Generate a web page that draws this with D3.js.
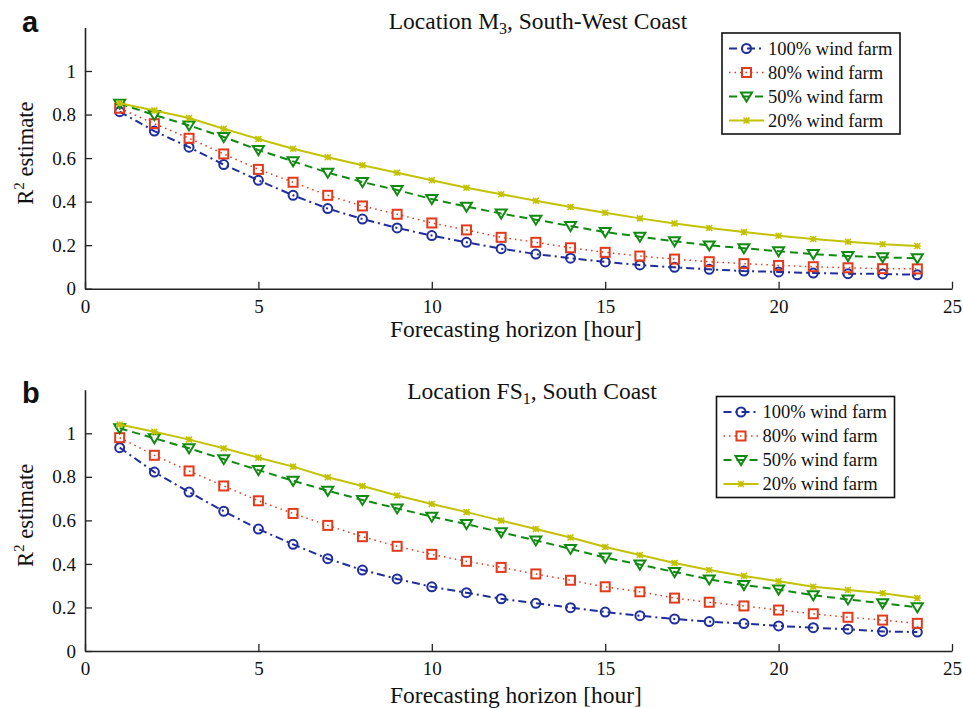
<!DOCTYPE html>
<html>
<head>
<meta charset="utf-8">
<script src="https://cdn.jsdelivr.net/npm/d3@7"></script>
<style>
  body { margin: 0; background: #fff; }
  svg text { font-family: 'Liberation Serif', 'Times New Roman', serif; fill: #111; }
  svg text.letter { font-family: 'Liberation Sans', Arial, sans-serif; font-weight: bold; }
</style>
</head>
<body>
<svg width="963" height="708"></svg>
<script>
// hours on the x axis
var hours = [1,2,3,4,5,6,7,8,9,10,11,12,13,14,15,16,17,18,19,20,21,22,23,24];
var xTicks = [0,5,10,15,20,25];
var yTicks = [0,0.2,0.4,0.6,0.8,1];
var seriesNames = ["100% wind farm","80% wind farm","50% wind farm","20% wind farm"];

// panel a: location M3
var m3_100 = [0.813,0.724,0.650,0.570,0.498,0.429,0.368,0.320,0.279,0.244,0.213,0.184,0.159,0.140,0.123,0.109,0.098,0.089,0.081,0.077,0.072,0.069,0.068,0.064];
var m3_80  = [0.829,0.758,0.691,0.619,0.548,0.489,0.429,0.380,0.342,0.302,0.270,0.236,0.213,0.188,0.167,0.150,0.136,0.124,0.115,0.107,0.101,0.096,0.092,0.091];
var m3_50  = [0.850,0.798,0.750,0.697,0.637,0.585,0.533,0.490,0.453,0.412,0.377,0.345,0.317,0.288,0.260,0.239,0.218,0.199,0.186,0.172,0.159,0.150,0.144,0.140];
var m3_20  = [0.852,0.819,0.784,0.735,0.688,0.643,0.604,0.567,0.533,0.498,0.464,0.434,0.404,0.375,0.349,0.323,0.300,0.279,0.260,0.243,0.228,0.216,0.204,0.196];

// panel b: location FS1
var fs1_100 = [0.934,0.822,0.730,0.642,0.560,0.490,0.424,0.372,0.331,0.295,0.268,0.240,0.219,0.199,0.179,0.162,0.147,0.135,0.126,0.115,0.107,0.100,0.090,0.087];
var fs1_80  = [0.980,0.899,0.827,0.758,0.690,0.632,0.577,0.525,0.481,0.444,0.412,0.384,0.354,0.325,0.295,0.272,0.243,0.224,0.207,0.188,0.171,0.155,0.142,0.127];
var fs1_50  = [1.023,0.977,0.931,0.881,0.831,0.782,0.736,0.694,0.655,0.617,0.583,0.545,0.508,0.469,0.429,0.397,0.363,0.329,0.303,0.282,0.256,0.237,0.219,0.201];
var fs1_20  = [1.040,1.007,0.971,0.931,0.888,0.847,0.798,0.758,0.714,0.675,0.638,0.599,0.560,0.521,0.478,0.441,0.404,0.372,0.345,0.320,0.295,0.280,0.265,0.243];

var styles = [
  {color: "#1f2e9c", dash: "8,4,2,4", width: 2, marker: "circle"},
  {color: "#e23a1c", dash: "1.5,4", width: 1.5, marker: "square"},
  {color: "#118a11", dash: "8,5", width: 2, marker: "triangle"},
  {color: "#c2c200", dash: null, width: 2, marker: "star"}
];

var svg = d3.select("svg");

var x = d3.scaleLinear().domain([0,25]).range([85,952]);

function marker(g, type, cx, cy, color) {
  if (type == "circle") {
    g.append("circle").attr("cx", cx).attr("cy", cy).attr("r", 4.5)
      .attr("fill", "none").attr("stroke", color).attr("stroke-width", 2);
  } else if (type == "square") {
    g.append("rect").attr("x", cx-4.5).attr("y", cy-4.5).attr("width", 9).attr("height", 9)
      .attr("fill", "none").attr("stroke", color).attr("stroke-width", 2);
  } else if (type == "triangle") {
    g.append("path").attr("d", "M" + (cx-5.5) + "," + (cy-4) + "L" + (cx+5.5) + "," + (cy-4) + "L" + cx + "," + (cy+5) + "Z")
      .attr("fill", "none").attr("stroke", color).attr("stroke-width", 2);
  } else {
    var s = 3;
    g.append("path").attr("d",
      "M" + (cx-s) + "," + (cy-s) + "L" + (cx+s) + "," + (cy+s) +
      "M" + (cx-s) + "," + (cy+s) + "L" + (cx+s) + "," + (cy-s) +
      "M" + (cx-s-0.5) + "," + cy + "L" + (cx+s+0.5) + "," + cy +
      "M" + cx + "," + (cy-s) + "L" + cx + "," + (cy+s))
      .attr("stroke", color).attr("stroke-width", 1.5);
  }
}

function panel(opt) {
  var y = d3.scaleLinear().domain([0,1.2]).range([opt.y0, opt.y0 - 1.2*217.7]);
  var g = svg.append("g");

  // axes
  var xAxis = d3.axisBottom(x).tickValues(xTicks).tickSizeInner(-7).tickSizeOuter(0).tickPadding(11);
  var yAxis = d3.axisLeft(y).tickValues(yTicks).tickSizeInner(-7).tickSizeOuter(0).tickPadding(9)
    .tickFormat(function(d) { return d == 0 ? "0" : d == 1 ? "1" : d3.format(".1f")(d); });

  var gx = g.append("g").attr("transform", "translate(0," + opt.y0 + ")").call(xAxis);
  var gy = g.append("g").attr("transform", "translate(85,0)").call(yAxis);
  [gx, gy].forEach(function(a) {
    a.attr("font-size", 19);
    a.select(".domain").attr("stroke", "#222").attr("stroke-width", 1.6);
    a.selectAll(".tick line").attr("stroke", "#222").attr("stroke-width", 1.3);
  });

  // lines + markers
  opt.series.forEach(function(vals, i) {
    var st = styles[i];
    var line = d3.line().x(function(d, j) { return x(hours[j]); }).y(function(d) { return y(d); });
    g.append("path").datum(vals).attr("d", line)
      .attr("fill", "none").attr("stroke", st.color).attr("stroke-width", st.width)
      .attr("stroke-dasharray", st.dash);
    var mg = g.append("g");
    vals.forEach(function(v, j) { marker(mg, st.marker, x(hours[j]), y(v), st.color); });
  });

  // title
  var t = g.append("text").attr("x", opt.titleX).attr("y", opt.titleY)
    .attr("text-anchor", "middle").attr("font-size", 23.5);
  t.append("tspan").text(opt.title[0]);
  t.append("tspan").text(opt.title[1]).attr("font-size", 16).attr("dy", 5);
  t.append("tspan").text(opt.title[2]).attr("dy", -5);

  // x label
  g.append("text").attr("x", 516).attr("y", opt.xlabY).attr("text-anchor", "middle")
    .attr("font-size", 23.5).text("Forecasting horizon [hour]");

  // y label
  var yl = g.append("text").attr("transform", "translate(33," + (opt.y0 - 0.6*217.7 - 5) + ") rotate(-90)")
    .attr("text-anchor", "middle").attr("font-size", 22.5);
  yl.append("tspan").text("R");
  yl.append("tspan").text("2").attr("font-size", 15).attr("dy", -9);
  yl.append("tspan").text(" estimate").attr("dy", 9);

  // panel letter
  g.append("text").attr("class", "letter").attr("x", 22).attr("y", opt.letterY)
    .attr("font-size", 29).text(opt.letter);

  // legend
  var lg = g.append("g").attr("transform", "translate(" + opt.legX + "," + opt.legY + ")");
  lg.append("rect").attr("x", 0).attr("y", 0).attr("width", 178).attr("height", 101)
    .attr("fill", "#fff").attr("stroke", "#111").attr("stroke-width", 1.6);
  seriesNames.forEach(function(name, i) {
    var st = styles[i];
    var ry = 15.5 + i*24;
    lg.append("line").attr("x1", 7).attr("x2", 42).attr("y1", ry).attr("y2", ry)
      .attr("stroke", st.color).attr("stroke-width", st.width).attr("stroke-dasharray", st.dash);
    marker(lg, st.marker, 24.5, ry, st.color);
    lg.append("text").attr("x", 46).attr("y", ry + 6).attr("font-size", 18.5).text(name);
  });
}

panel({
  y0: 288.7, series: [m3_100, m3_80, m3_50, m3_20],
  title: ["Location M", "3", ", South-West Coast"], titleX: 538, titleY: 29,
  xlabY: 337, letter: "a", letterY: 32, legX: 722, legY: 33
});
panel({
  y0: 651, series: [fs1_100, fs1_80, fs1_50, fs1_20],
  title: ["Location FS", "1", ", South Coast"], titleX: 532, titleY: 399,
  xlabY: 703, letter: "b", letterY: 403, legX: 716.5, legY: 396.5
});
</script>
</body>
</html>
